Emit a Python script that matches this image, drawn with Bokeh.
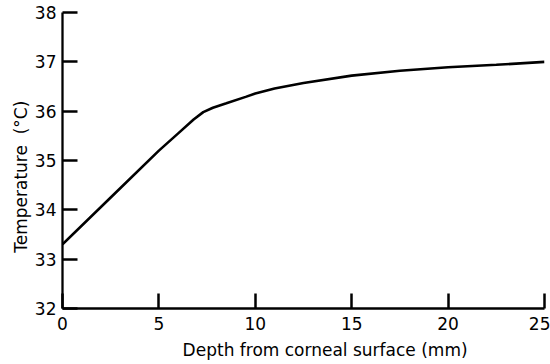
from bokeh.plotting import figure
from bokeh.models import Range1d, FixedTicker
from bokeh.embed import file_html
from bokeh.resources import INLINE

# Data
depth_mm = [0, 2.5, 5, 6.0, 6.8, 7.3, 7.8, 8.5, 9.5, 10, 11, 12.5, 15, 17.5, 20, 22.5, 25]
temperature_c = [33.3, 34.25, 35.2, 35.55, 35.83, 35.98, 36.07, 36.16, 36.29, 36.36,
                 36.46, 36.57, 36.72, 36.82, 36.89, 36.94, 37.0]
x_ticks = [0, 5, 10, 15, 20, 25]
y_ticks = [32, 33, 34, 35, 36, 37, 38]

NB = "\u00a0"
x_label = NB * 8 + "Depth from corneal surface (mm)"
y_label = "Temperature" + NB * 2 + "(°C)" + NB * 6

p = figure(width=550, height=364, output_backend="svg", toolbar_location=None,
           x_range=Range1d(0, 25), y_range=Range1d(32, 38),
           min_border_left=62, min_border_right=6, min_border_top=12, min_border_bottom=56)
p.outline_line_color = None
p.background_fill_color = "white"
p.border_fill_color = "white"
p.xgrid.visible = False
p.ygrid.visible = False

p.line(depth_mm, temperature_c, line_color="black", line_width=2.6)

for ax in (p.xaxis[0], p.yaxis[0]):
    ax.axis_line_color = "black"
    ax.axis_line_width = 2.3
    ax.major_tick_line_color = "black"
    ax.major_tick_line_width = 2.5
    ax.major_tick_in = 15
    ax.major_tick_out = 0
    ax.minor_tick_line_color = None
    ax.major_label_text_font = "DejaVu Sans"
    ax.major_label_text_font_size = "17px"
    ax.major_label_text_color = "black"
    ax.axis_label_text_font = "DejaVu Sans"
    ax.axis_label_text_font_size = "17px"
    ax.axis_label_text_font_style = "normal"
    ax.axis_label_text_color = "black"

p.xaxis[0].ticker = FixedTicker(ticks=x_ticks)
p.yaxis[0].ticker = FixedTicker(ticks=y_ticks)
p.xaxis[0].axis_label = x_label
p.yaxis[0].axis_label = y_label
p.xaxis[0].major_label_standoff = 8
p.yaxis[0].major_label_standoff = 6
p.xaxis[0].axis_label_standoff = 7
p.yaxis[0].axis_label_standoff = 1

open("out.html", "w").write(file_html(p, INLINE))
